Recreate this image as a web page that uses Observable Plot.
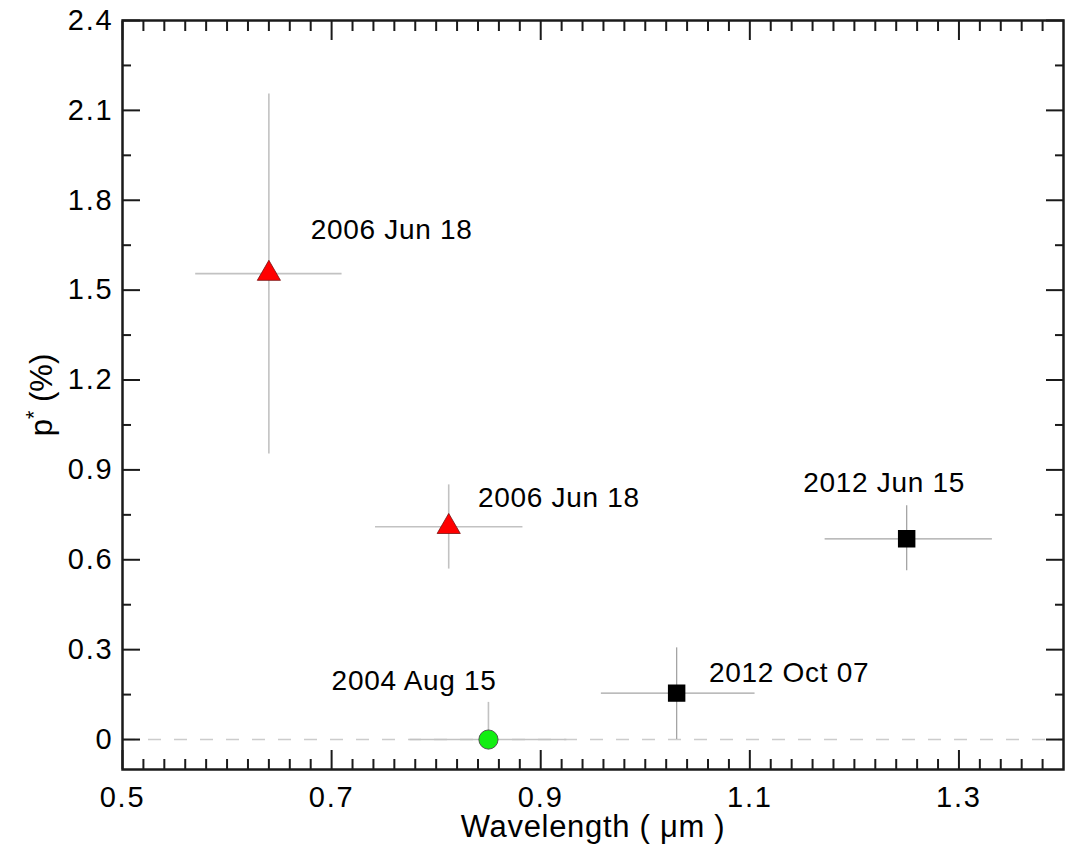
<!DOCTYPE html>
<html>
<head>
<meta charset="utf-8">
<script src="https://cdn.jsdelivr.net/npm/d3@7"></script>
<script src="https://cdn.jsdelivr.net/npm/@observablehq/plot@0.6"></script>
<style>
  html, body { margin: 0; padding: 0; background: #fff; }
  #chart svg { display: block; }
  #chart g[aria-label="x-axis tick label"] text,
  #chart g[aria-label="y-axis tick label"] text { letter-spacing: 1.8px; }
  #chart g.annot text { letter-spacing: 0.7px; }
</style>
</head>
<body>
<div id="chart"></div>
<script>
// ---- data ----
const obsLabels = ["2006 Jun 18", "2006 Jun 18", "2004 Aug 15", "2012 Oct 07", "2012 Jun 15"];
const wavelength = [0.64, 0.812, 0.85, 1.03, 1.25];
const wavelengthLo = [0.57, 0.742, 0.775, 0.958, 1.172];
const wavelengthHi = [0.71, 0.883, 0.925, 1.105, 1.332];
const pol = [1.555, 0.71, 0.0, 0.155, 0.67];
const polLo = [0.953, 0.569, 0.0, 0.0, 0.563];
const polHi = [2.155, 0.85, 0.124, 0.306, 0.78];
const markerShape = ["triangle", "triangle", "circle", "square", "square"];
const labelX = [0.68, 0.84, 0.70, 1.061, 1.151];
const labelY = [1.70, 0.805, 0.196, 0.222, 0.856];

const xTicks = [0.5, 0.7, 0.9, 1.1, 1.3];
const yTicks = [0, 0.3, 0.6, 0.9, 1.2, 1.5, 1.8, 2.1, 2.4];
const xMinorTicks = d3.range(26, 70).map(i => +(i * 0.02).toFixed(2)).filter(v => !xTicks.some(t => Math.abs(t - v) < 1e-9));
const yMinorTicks = d3.range(1, 16, 2).map(i => +(i * 0.15).toFixed(2));

const rows = obsLabels.map((label, i) => ({
  label, wl: wavelength[i], wlLo: wavelengthLo[i], wlHi: wavelengthHi[i],
  p: pol[i], pLo: polLo[i], pHi: polHi[i], shape: markerShape[i],
  lx: labelX[i], ly: labelY[i]
}));
const lightRows = rows.filter(d => d.shape !== "square");
const darkRows = rows.filter(d => d.shape === "square");

const FONT = "'Liberation Sans', Arial, Helvetica, sans-serif";
const axisColor = "#1a1a1a";

const tickMarks = (axis, anchor, values, size) =>
  axis(values, {anchor, tickSize: -size, tickFormat: () => "", stroke: axisColor, strokeWidth: 2, label: null});

const errorBars = (data, stroke, strokeWidth) => [
  Plot.ruleY(data, {y: "p", x1: "wlLo", x2: "wlHi", stroke, strokeWidth}),
  Plot.ruleX(data, {x: "wl", y1: "pLo", y2: "pHi", stroke, strokeWidth})
];

const chart = Plot.plot({
  width: 1069,
  height: 844,
  marginLeft: 122,
  marginRight: 6,
  marginTop: 20,
  marginBottom: 75,
  style: {fontFamily: FONT, background: "#fff", color: "#000"},
  x: {domain: [0.5, 1.4], label: null},
  y: {domain: [-0.1, 2.4], label: null},
  marks: [
    Plot.ruleY([0], {stroke: "#cccccc", strokeWidth: 1.5, strokeDasharray: "13,13", strokeDashoffset: -26}),
    // error bars
    errorBars(lightRows, "#c2c2c2", 1.6),
    errorBars(darkRows, "#a4a4a4", 1.3),
    // markers
    Plot.dot(rows.filter(d => d.shape === "triangle"), {x: "wl", y: "p", symbol: "triangle", r: 8.6, fill: "#ff0000", stroke: "#7a1010", strokeWidth: 0.8}),
    Plot.dot(rows.filter(d => d.shape === "circle"), {x: "wl", y: "p", symbol: "circle", r: 9.6, fill: "#12ee12", stroke: "#4a4a4a", strokeWidth: 0.9}),
    Plot.dot(darkRows, {x: "wl", y: "p", symbol: "square", r: 9.0, fill: "#000", stroke: "#000"}),
    // annotations
    Plot.text(rows, {x: "lx", y: "ly", text: "label", textAnchor: "start", fontSize: 28, fill: "#000", className: "annot"}),
    // frame and ticks
    Plot.frame({stroke: axisColor, strokeWidth: 2.5}),
    tickMarks(Plot.axisX, "bottom", xTicks, 19),
    tickMarks(Plot.axisX, "bottom", xMinorTicks, 10),
    tickMarks(Plot.axisX, "top", xTicks, 19),
    tickMarks(Plot.axisX, "top", xMinorTicks, 10),
    tickMarks(Plot.axisY, "left", yTicks, 18),
    tickMarks(Plot.axisY, "left", yMinorTicks, 9),
    tickMarks(Plot.axisY, "right", yTicks, 18),
    tickMarks(Plot.axisY, "right", yMinorTicks, 9),
    // tick labels
    Plot.axisX(xTicks, {anchor: "bottom", tickSize: 0, tickPadding: 17, fontSize: 29, tickFormat: d => d.toFixed(1), label: null}),
    Plot.axisY(yTicks, {anchor: "left", tickSize: 0, tickPadding: 9, fontSize: 29, tickFormat: d => d === 0 ? "0" : d.toFixed(1), label: null}),
    // axis titles
    Plot.text(["Wavelength ( μm )"], {frameAnchor: "bottom", textAnchor: "middle", lineAnchor: "middle", dy: 58, fontSize: 31, fill: "#000", className: "annot"}),
    Plot.text(["p* (%)"], {frameAnchor: "left", textAnchor: "middle", lineAnchor: "middle", dx: -80, rotate: -90, fontSize: 31, fill: "#000", className: "ylab"})
  ]
});

document.getElementById("chart").appendChild(chart);

// superscript asterisk on the y label
chart.querySelectorAll("text").forEach(t => {
  if (t.textContent === "p* (%)") {
    t.textContent = "";
    const ns = "http://www.w3.org/2000/svg";
    const a = document.createElementNS(ns, "tspan"); a.textContent = "p";
    const b = document.createElementNS(ns, "tspan"); b.textContent = "*";
    b.setAttribute("dy", "-0.55em"); b.setAttribute("font-size", "0.7em");
    const c = document.createElementNS(ns, "tspan"); c.textContent = " (%)";
    c.setAttribute("dy", "0.385em");
    t.append(a, b, c);
  }
});
</script>
</body>
</html>
